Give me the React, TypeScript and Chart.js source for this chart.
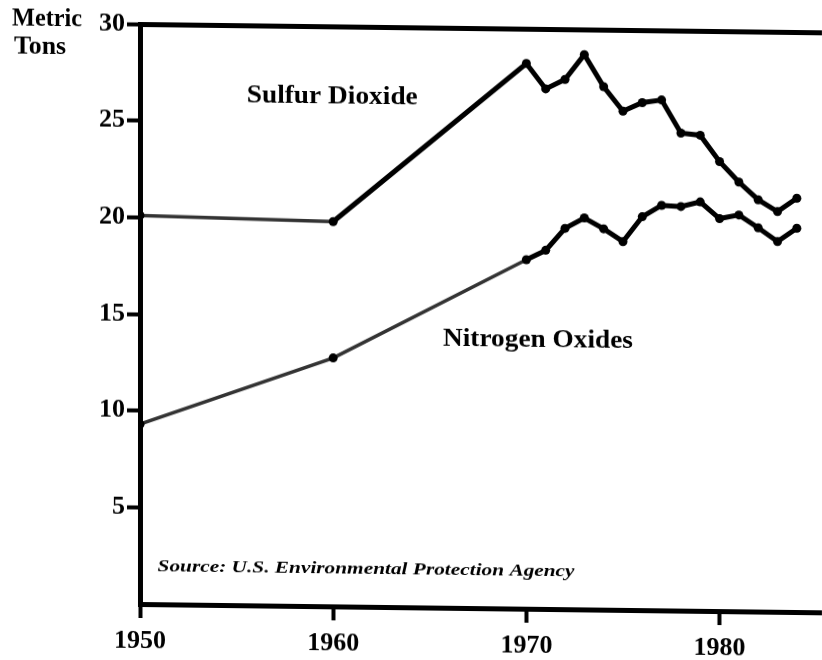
import React, { useEffect, useRef } from "react";
import { Chart, registerables } from "chart.js";

Chart.register(...registerables);

// ---- data ----
const years = [1950, 1960, 1970, 1971, 1972, 1973, 1974, 1975, 1976, 1977, 1978, 1979, 1980, 1981, 1982, 1983, 1984];
const sulfurDioxide = [20.1, 19.9, 28.2, 26.9, 27.4, 28.7, 27.05, 25.8, 26.25, 26.4, 24.7, 24.6, 23.25, 22.2, 21.3, 20.7, 21.4];
const nitrogenOxides = [9.3, 12.85, 18.05, 18.55, 19.7, 20.25, 19.7, 19.05, 20.35, 20.95, 20.9, 21.15, 20.3, 20.5, 19.85, 19.15, 19.85];
const xTickValues = [1950, 1960, 1970, 1980];
const yTickValues = [5, 10, 15, 20, 25, 30];

const seriesNames = ["Sulfur Dioxide", "Nitrogen Oxides"];
const axisTitleLines = ["Metric", "Tons"];
const sourceNote = "Source: U.S. Environmental Protection Agency";

// label placement (data coordinates) and sizing
const inPlotLabels = [
  { text: seriesNames[0], x: 1959.95, y: 26.35, w: 171, size: 25, style: "bold" },
  { text: seriesNames[1], x: 1970.6, y: 13.9, w: 190, size: 25, style: "bold" },
  { text: sourceNote, x: 1961.7, y: 1.95, w: 417, size: 17, style: "italic bold" },
];

const FONT = '"Liberation Serif", "Times New Roman", serif';

const labelPlugin = {
  id: "textLabels",
  afterDraw(chart: any) {
    const ctx = chart.ctx as CanvasRenderingContext2D;
    const xs = chart.scales.x;
    const ys = chart.scales.y;
    const drawFit = (text: string, cx: number, cy: number, w: number, font: string, align: "center" | "left") => {
      ctx.save();
      ctx.font = font;
      ctx.fillStyle = "#000";
      ctx.textBaseline = "middle";
      ctx.textAlign = align;
      const m = ctx.measureText(text).width;
      ctx.translate(cx, cy);
      ctx.scale(w / m, 1);
      ctx.fillText(text, 0, 0);
      ctx.restore();
    };
    inPlotLabels.forEach((l) => {
      drawFit(l.text, xs.getPixelForValue(l.x), ys.getPixelForValue(l.y), l.w, `${l.style} ${l.size}px ${FONT}`, "center");
    });
    drawFit(axisTitleLines[0], 12, 20, 70, `bold 26px ${FONT}`, "left");
    drawFit(axisTitleLines[1], 14, 48, 52, `bold 26px ${FONT}`, "left");
  },
};

export default function App() {
  const ref = useRef<HTMLCanvasElement | null>(null);

  useEffect(() => {
    if (!ref.current) return;
    const thin = (limit: number) => (c: any) => (c.p0DataIndex < limit ? 3.5 : 5);
    const thinColor = (limit: number) => (c: any) => (c.p0DataIndex < limit ? "#333" : "#000");
    const chart = new Chart(ref.current, {
      type: "line",
      data: {
        datasets: [
          {
            label: seriesNames[0],
            data: years.map((x, i) => ({ x, y: sulfurDioxide[i] })),
            borderColor: "#000",
            backgroundColor: "#000",
            borderWidth: 5,
            pointRadius: 4.5,
            pointBorderWidth: 0,
            pointBackgroundColor: "#000",
            tension: 0,
            segment: { borderWidth: thin(1), borderColor: thinColor(1) },
          },
          {
            label: seriesNames[1],
            data: years.map((x, i) => ({ x, y: nitrogenOxides[i] })),
            borderColor: "#000",
            backgroundColor: "#000",
            borderWidth: 5,
            pointRadius: 4.5,
            pointBorderWidth: 0,
            pointBackgroundColor: "#000",
            tension: 0,
            segment: { borderWidth: thin(2), borderColor: thinColor(2) },
          },
        ],
      },
      options: {
        responsive: false,
        animation: false,
        layout: { autoPadding: false, padding: { top: 24, right: 0, left: 0, bottom: 0 } },
        plugins: { legend: { display: false }, tooltip: { enabled: false }, title: { display: false } },
        scales: {
          x: {
            type: "linear",
            min: 1950,
            max: 1985.3,
            afterBuildTicks: (s: any) => {
              s.ticks = xTickValues.map((v) => ({ value: v }));
            },
            afterFit: (s: any) => {
              s.height = 56;
              s.paddingLeft = 0;
              s.paddingRight = 0;
            },
            border: { display: true, color: "#000", width: 5 },
            grid: {
              drawOnChartArea: false,
              drawTicks: true,
              tickLength: 14,
              tickColor: "#000",
              tickWidth: 4,
              color: "transparent",
            },
            ticks: {
              color: "#000",
              padding: 8,
              maxRotation: 0,
              autoSkip: false,
              font: { family: FONT, size: 26, weight: "bold" },
              callback: (v: any) => String(v),
            },
          },
          y: {
            type: "linear",
            min: 0,
            max: 30,
            afterBuildTicks: (s: any) => {
              s.ticks = yTickValues.map((v) => ({ value: v }));
            },
            afterFit: (s: any) => {
              s.width = 140;
            },
            border: { display: true, color: "#000", width: 5 },
            grid: {
              drawOnChartArea: true,
              drawTicks: true,
              tickLength: 13,
              tickColor: "#000",
              tickWidth: 4,
              lineWidth: 5,
              color: (c: any) => (c.tick && c.tick.value === 30 ? "#000" : "transparent"),
            },
            ticks: {
              color: "#000",
              padding: 2,
              autoSkip: false,
              font: { family: FONT, size: 26, weight: "bold" },
              callback: (v: any) => String(v),
            },
          },
        },
      },
      plugins: [labelPlugin],
    } as any);
    return () => chart.destroy();
  }, []);

  return (
    <div
      style={{
        position: "fixed",
        left: 0,
        top: 0,
        width: 822,
        height: 660,
        background: "#fff",
        transform: "skewY(0.7deg)",
        transformOrigin: "140px 0px",
      }}
    >
      <canvas ref={ref} width={822} height={660} style={{ display: "block" }} />
    </div>
  );
}
